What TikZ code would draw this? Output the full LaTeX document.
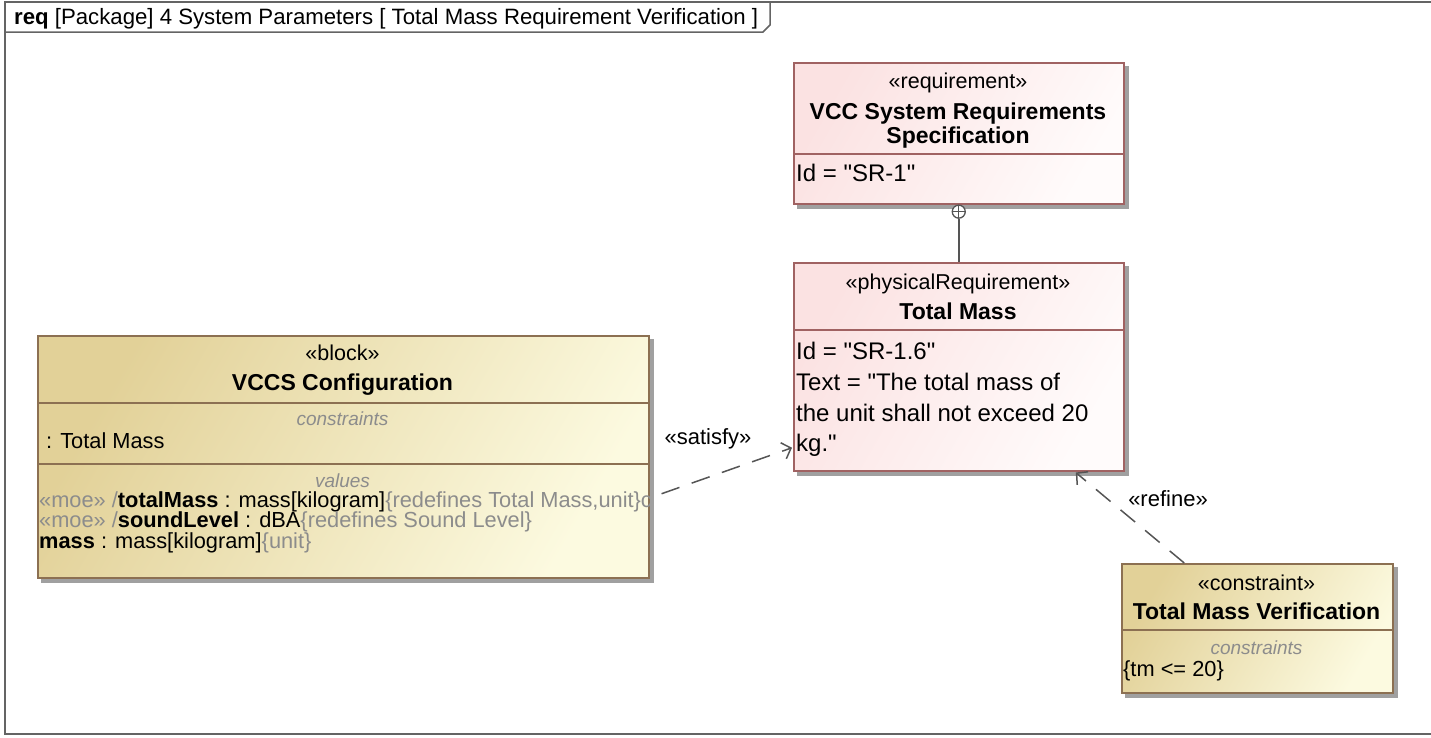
\documentclass[tikz,border=0pt]{standalone}
\usepackage{fontspec}
\setmainfont{Liberation Sans}
% a family without TeX ligature mapping, so that " stays a straight quote
\newfontfamily\uifont{Liberation Sans}
\usetikzlibrary{arrows.meta,backgrounds}

\definecolor{blkA}{RGB}{226,209,152}
\definecolor{blkB}{RGB}{252,250,224}
\definecolor{blkLine}{RGB}{140,112,82}
\definecolor{reqA}{RGB}{251,226,226}
\definecolor{reqB}{RGB}{255,251,251}
\definecolor{reqLine}{RGB}{160,98,98}
\definecolor{frameLine}{RGB}{100,100,100}
\definecolor{dimText}{RGB}{140,140,140}
\definecolor{linkLine}{RGB}{85,85,85}
\definecolor{shadowCol}{RGB}{160,160,160}

\newcommand\fz[1]{\uifont\fontsize{#1}{#1}\selectfont}

\begin{document}
\begin{tikzpicture}[x=1pt,y=-1pt,
  box/.style={draw, line width=1.5pt, rectangle, inner sep=0pt, anchor=north west},
  blockbox/.style={box, draw=blkLine, left color=blkA, right color=blkB, shading angle=60},
  reqbox/.style={box, draw=reqLine, left color=reqA, right color=reqB, shading angle=60},
  txt/.style={inner sep=0pt, yshift=-5pt},
  stereo/.style={txt, anchor=mid, font=\fz{21.5}},
  title/.style={txt, anchor=mid, font=\fz{23}\bfseries},
  body/.style={txt, anchor=mid west, font=\fz{24}},
  attr/.style={txt, anchor=mid west, font=\fz{21.8}},
  comp/.style={txt, anchor=mid, font=\fz{19}\itshape, text=dimText},
  lbl/.style={txt, anchor=mid, font=\fz{22}},
  dep/.style={draw=linkLine, line width=1.5pt, dash pattern=on 19pt off 13pt,
    -{Straight Barb[length=8pt,width=17pt,line width=1.5pt]}},
  shadowfill/.style={fill=shadowCol},
  frameline/.style={draw=frameLine, line width=1.5pt}
]
\useasboundingbox (0,0) rectangle (1431,737);

% diagram frame and its name tab
\draw[frameline] (5,2) rectangle (1434,734);
\draw[frameline] (5,32) -- (763,32) -- (770,25) -- (770,2);
\node[txt, anchor=mid west, font=\fz{22.2}] (frameName) at (14,17)
  {\textbf{req} [Package] 4 System Parameters [ Total Mass Requirement Verification ]};

% block: VCCS Configuration
\node[blockbox, minimum width=611pt, minimum height=242pt] (blk) at (37,335) {};
\draw[blkLine, line width=1.5pt] (blk.west |- 0,403) -- (blk.east |- 0,403);
\draw[blkLine, line width=1.5pt] (blk.west |- 0,464) -- (blk.east |- 0,464);
\node[stereo] (blkSt) at (342.5,353) {«block»};
\node[title] (blkName) at (342.5,383) {VCCS Configuration};
\node[comp] (blkCons) at (342.5,418) {constraints};
\node[attr] (blkCons1) at (46,441) {: Total Mass};
\node[comp] (blkVals) at (342.5,480) {values};
\begin{scope}
  \clip (blk.north west) rectangle (blk.south east);
  \node[attr] (blkVal1) at (39,500) {\textcolor{dimText}{«moe» /}\textbf{totalMass} : mass[kilogram]\textcolor{dimText}{\{redefines Total Mass,unit\}c}};
\end{scope}
\node[attr] (blkVal2) at (39,520) {\textcolor{dimText}{«moe» /}\textbf{soundLevel} : dBA\textcolor{dimText}{\{redefines Sound Level\}}};
\node[attr] (blkVal3) at (39,541) {\textbf{mass} : mass[kilogram]\textcolor{dimText}{\{unit\}}};

% requirement: VCC System Requirements Specification
\node[reqbox, minimum width=330pt, minimum height=141pt] (req) at (793,62) {};
\draw[reqLine, line width=1.5pt] (req.west |- 0,154) -- (req.east |- 0,154);
\node[stereo] (reqSt) at (958,81) {«requirement»};
\node[title] (reqName1) at (958,112) {VCC System Requirements};
\node[title] (reqName2) at (958,136) {Specification};
\node[body] (reqId) at (796,174) {Id = "SR-1"};

% physical requirement: Total Mass
\node[reqbox, minimum width=330pt, minimum height=208pt] (tm) at (793,262) {};
\draw[reqLine, line width=1.5pt] (tm.west |- 0,330) -- (tm.east |- 0,330);
\node[stereo] (tmSt) at (958,282) {«physicalRequirement»};
\node[title] (tmName) at (958,312) {Total Mass};
\node[body] (tmId) at (796,352) {Id = "SR-1.6"};
\node[body] (tmTxt1) at (796,383) {Text = "The total mass of};
\node[body] (tmTxt2) at (796,414) {the unit shall not exceed 20};
\node[body] (tmTxt3) at (796,444) {kg."};

% constraint block: Total Mass Verification
\node[blockbox, minimum width=271pt, minimum height=129pt] (tmv) at (1121,563) {};
\draw[blkLine, line width=1.5pt] (tmv.west |- 0,630) -- (tmv.east |- 0,630);
\node[stereo] (tmvSt) at (1256.5,583) {«constraint»};
\node[title] (tmvName) at (1256.5,612) {Total Mass Verification};
\node[comp] (tmvCons) at (1256.5,647) {constraints};
\node[attr] (tmvCons1) at (1123,669) {\{tm <= 20\}};

% drop shadows behind the boxes
\begin{scope}[on background layer]
  \foreach \b in {blk,req,tm,tmv}
    \fill[shadowfill] ([xshift=4pt,yshift=-4pt]\b.north west) rectangle ([xshift=4pt,yshift=-4pt]\b.south east);
\end{scope}

% containment
\node[circle, draw=linkLine, fill=white, line width=1.3pt, minimum size=13pt, inner sep=0pt, anchor=north] (cont) at (req.south) {};
\draw[linkLine, line width=1.3pt] (cont.north) -- (cont.south) (cont.west) -- (cont.east);
\draw[linkLine, line width=1.5pt] (cont.south) -- (tm.north);

% satisfy dependency
\draw[dep] ([xshift=12pt,yshift=-37pt]blk.east) -- ([xshift=-1pt,yshift=-81pt]tm.west);
\node[lbl] (satLbl) at (708,437) {«satisfy»};

% refine dependency
\draw[dep] ([xshift=-73pt]tmv.north) -- ([xshift=117pt,yshift=-1pt]tm.south);
\node[lbl] (refLbl) at (1168,499) {«refine»};
\end{tikzpicture}
\end{document}
